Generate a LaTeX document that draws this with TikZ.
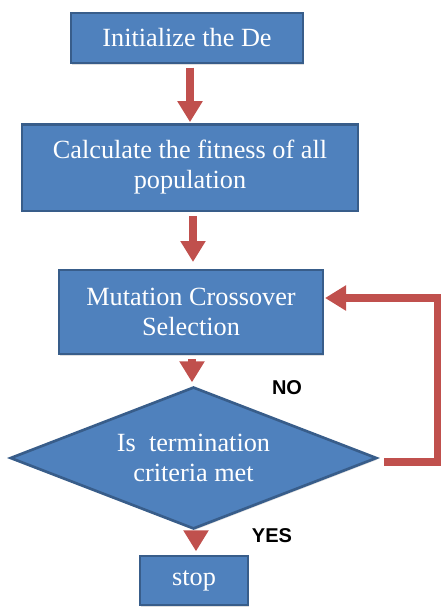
\documentclass[tikz,border=0pt]{standalone}
\usepackage{fontspec}
\setmainfont{Liberation Serif}
\newfontfamily\labelfont{Liberation Sans}
\usetikzlibrary{shapes.geometric,arrows.meta,shadows}
\definecolor{boxblue}{HTML}{4F81BD}
\definecolor{boxedge}{HTML}{385D8A}
\definecolor{arrowred}{HTML}{C0504D}

\begin{document}
\begin{tikzpicture}[x=0.75pt,y=-0.75pt,
    stepbox/.style={rectangle,draw=boxedge,line width=2pt,fill=boxblue,text=white,
      align=center,inner sep=0pt,font=\fontsize{19.7}{22.5}\selectfont,
      drop shadow={opacity=0.25,shadow xshift=1pt,shadow yshift=-1.2pt}},
    decision/.style={diamond,draw=boxedge,line width=2pt,fill=boxblue,text=white,
      align=center,inner sep=0pt,aspect=2.6,font=\fontsize{19.7}{22.5}\selectfont,
      drop shadow={opacity=0.25,shadow xshift=1pt,shadow yshift=-1.2pt}},
    redarrow/.style={draw=arrowred,line width=6pt,
      -{Triangle[length=15.75pt,width=18pt]}},
    lbl/.style={font=\labelfont\bfseries\fontsize{15}{18}\selectfont}]
\useasboundingbox (0,0) rectangle (441,607);
\node[stepbox,minimum width=174pt,minimum height=37.5pt] (init) at (187,38) {Initialize the De};
\node[stepbox,minimum width=252pt,minimum height=65pt] (fit) at (190,167.5) {Calculate the fitness of all\\population};
\node[stepbox,minimum width=198pt,minimum height=63pt] (mut) at (191,312) {Mutation Crossover\\Selection};
\node[decision,minimum width=275pt,minimum height=106.5pt] (check) at (193.5,458) {Is\ \ termination\\criteria met};
\node[stepbox,minimum width=81pt,minimum height=36.75pt] (stop) at (194,580.5) {stop};
\coordinate (loopr) at (438,0);
\draw[redarrow] ([yshift=-2.5pt]init.south -| 190,0) -- ([yshift=0.5pt]fit.north -| 190,0);
\draw[redarrow] ([yshift=-3pt]fit.south -| 193,0) -- ([yshift=5pt]fit.south |- mut.north -| 193,0);
\draw[redarrow] ([yshift=-3pt]mut.south -| 192,0) -- ([yshift=2.5pt]check.north -| 192,0);
\draw[redarrow] ([yshift=-1pt]check.south -| 196,0) -- ([yshift=2.5pt]stop.north -| 196,0);
\draw[redarrow,line join=miter] ([xshift=4.5pt,yshift=-3pt]check.east) -- ([yshift=-3pt]loopr |- check.east)
  |- ([xshift=0.5pt,yshift=10.5pt]mut.east);
\node[lbl] (no) at (287,388) {NO};
\node[lbl] (yes) at (272,536) {YES};
\end{tikzpicture}
\end{document}
